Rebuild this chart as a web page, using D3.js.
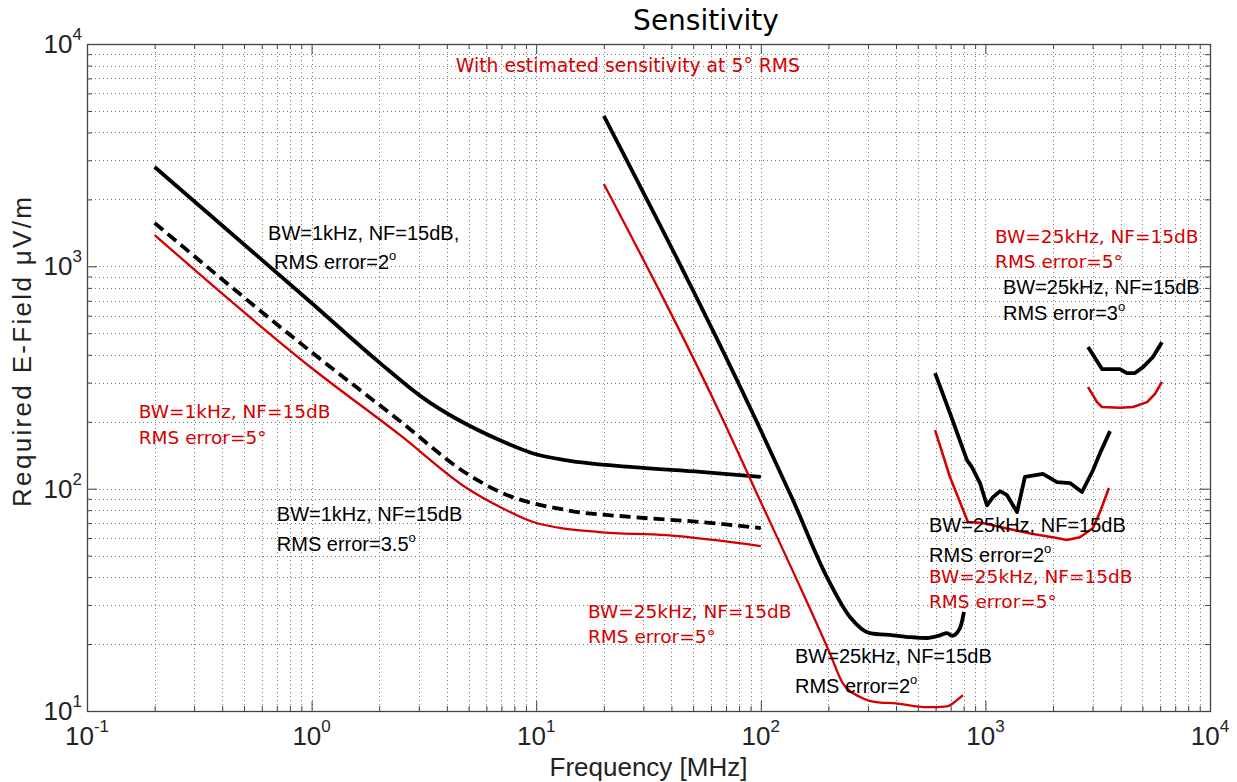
<!DOCTYPE html>
<html>
<head>
<meta charset="utf-8">
<script src="https://cdn.jsdelivr.net/npm/d3@7"></script>
<style>
  body { margin: 0; background: #fff; }
  svg { display: block; }
</style>
</head>
<body>
<svg id="chart" width="1237" height="782"></svg>
<script>
// ---- data (frequency in MHz, field in uV/m) ----
const bw1kRms2Freq = [0.2, 1, 2, 3.1, 6.9, 9.7, 13.7, 27, 54, 100];
const bw1kRms2Val  = [2800, 684, 370, 258, 165, 144, 134, 125, 119, 113];

const bw1kRms35Freq = [0.2, 1, 2.48, 4.9, 6.9, 13.7, 27, 54, 100];
const bw1kRms35Val  = [1567, 411, 201, 117, 96.6, 80, 74.5, 70.8, 66.5];

const bw1kRms5Freq = [0.2, 1, 2.48, 4.9, 6.9, 9.7, 19, 38, 100];
const bw1kRms5Val  = [1383, 349, 174, 100.7, 82.7, 70.8, 63.8, 61.8, 55.2];

const bw25kLowRms2Freq = [20, 99, 139, 197, 250, 306, 388, 462, 549, 628, 675, 710, 771, 803];
const bw25kLowRms2Val  = [4750, 187, 88.9, 40, 26.4, 22.4, 21.9, 21.5, 21.3, 21.9, 22.4, 21.8, 23.6, 27.9];

const bw25kLowRms5Freq = [20, 69, 99, 147, 203, 232, 277, 340, 388, 549, 675, 747, 794];
const bw25kLowRms5Val  = [2345, 197, 89, 37.6, 18.2, 13.3, 11.55, 10.9, 10.85, 10.4, 10.5, 11.2, 11.8];

const bw25kMidRms2Freq = [597, 695, 828, 871, 946, 1016, 1081, 1162, 1248, 1383, 1500, 1804, 2083, 2381, 2692, 3013, 3238, 3589];
const bw25kMidRms2Val  = [331, 219, 134.5, 125, 106, 84.2, 91.6, 97.5, 93.5, 78.5, 113, 116.5, 107, 106, 96.6, 121, 144.5, 181.5];

const bw25kMidRms5Freq = [597, 695, 836, 975, 1162, 1629, 2083, 2307, 2636, 3013, 3238, 3548];
const bw25kMidRms5Val  = [183.5, 113, 70.8, 70, 67.2, 62.5, 60, 58.8, 60.5, 66.5, 78.5, 100.7];

const bw25kHighRms3Freq = [2864, 3304, 3972, 4266, 4634, 5032, 5572, 6109];
const bw25kHighRms3Val  = [434, 345, 345, 331, 331, 352, 391, 456];

const bw25kHighRms5Freq = [2864, 3141, 3304, 3972, 4539, 5248, 5689, 6109];
const bw25kHighRms5Val  = [286, 245, 233, 231, 233, 245, 267, 302];

// tick label exponents
const xTickExps = [-1, 0, 1, 2, 3, 4];
const yTickExps = [1, 2, 3, 4];

const RED = "#d40000";
const BLACK = "#000";

// series table built from the arrays above
const series = [
  { f: bw1kRms2Freq, v: bw1kRms2Val, color: BLACK, width: 3.8, smooth: true },
  { f: bw1kRms35Freq, v: bw1kRms35Val, color: BLACK, width: 3.8, dash: "11,6", smooth: true },
  { f: bw1kRms5Freq, v: bw1kRms5Val, color: RED, width: 2.3, smooth: true },
  { f: bw25kLowRms2Freq, v: bw25kLowRms2Val, color: BLACK, width: 3.8, smooth: true },
  { f: bw25kLowRms5Freq, v: bw25kLowRms5Val, color: RED, width: 2.3, smooth: true },
  { f: bw25kMidRms2Freq, v: bw25kMidRms2Val, color: BLACK, width: 3.8 },
  { f: bw25kMidRms5Freq, v: bw25kMidRms5Val, color: RED, width: 2.6 },
  { f: bw25kHighRms3Freq, v: bw25kHighRms3Val, color: BLACK, width: 3.8 },
  { f: bw25kHighRms5Freq, v: bw25kHighRms5Val, color: RED, width: 2.6 }
];

// annotations, anchored in data coordinates
const notes = [
  { t: "BW=1kHz, NF=15dB,", f: 0.64, v: 1310, c: BLACK },
  { t: "RMS error=2", sup: "o", f: 0.68, v: 973, c: BLACK },
  { t: "BW=1kHz, NF=15dB", f: 0.17, v: 208, c: RED },
  { t: "RMS error=5°", f: 0.17, v: 159, c: RED },
  { t: "BW=1kHz, NF=15dB", f: 0.70, v: 71.5, c: BLACK },
  { t: "RMS error=3.5", sup: "o", f: 0.70, v: 52.4, c: BLACK },
  { t: "BW=25kHz, NF=15dB", f: 17.0, v: 26.2, c: RED },
  { t: "RMS error=5°", f: 17.0, v: 20.2, c: RED },
  { t: "BW=25kHz, NF=15dB", f: 142, v: 16.4, c: BLACK },
  { t: "RMS error=2", sup: "o", f: 142, v: 12.0, c: BLACK },
  { t: "BW=25kHz, NF=15dB", f: 561, v: 63.8, c: BLACK },
  { t: "RMS error=2", sup: "o", f: 561, v: 46.8, c: BLACK },
  { t: "BW=25kHz, NF=15dB", f: 561, v: 37.6, c: RED },
  { t: "RMS error=5°", f: 561, v: 29.0, c: RED },
  { t: "BW=25kHz, NF=15dB", f: 1104, v: 1270, c: RED },
  { t: "RMS error=5°", f: 1104, v: 985, c: RED },
  { t: "BW=25kHz, NF=15dB", f: 1197, v: 752, c: BLACK },
  { t: "RMS error=3", sup: "o", f: 1197, v: 573, c: BLACK }
];

// ---- layout ----
const plotL = 87, plotR = 1210, plotT = 44, plotB = 711;
const svg = d3.select("#chart");

const x = d3.scaleLog().domain([0.1, 1e4]).range([plotL, plotR]);
const y = d3.scaleLog().domain([10, 1e4]).range([plotB, plotT]);

const isMajor = d => Math.abs(Math.log10(d) - Math.round(Math.log10(d))) < 1e-9;
const xAll = x.ticks();
const yAll = y.ticks();

// grid (dotted, major and minor)
const grid = svg.append("g").attr("stroke", "#7a7a7a").attr("stroke-width", 1)
  .attr("stroke-dasharray", "1,3");
grid.selectAll(".gx").data(xAll.filter(d => x(d) > plotL + 1 && x(d) < plotR - 1)).join("line")
  .attr("x1", d => Math.round(x(d)) + 0.5).attr("x2", d => Math.round(x(d)) + 0.5)
  .attr("y1", plotT).attr("y2", plotB);
grid.selectAll(".gy").data(yAll.filter(d => y(d) > plotT + 1 && y(d) < plotB - 1)).join("line")
  .attr("y1", d => Math.round(y(d)) + 0.5).attr("y2", d => Math.round(y(d)) + 0.5)
  .attr("x1", plotL).attr("x2", plotR);

// tick marks on all four sides, pointing inward
function ticks(axisFn, scale, values, size, transform) {
  const g = svg.append("g").attr("transform", transform)
    .call(axisFn(scale).tickValues(values).tickSize(-size).tickFormat(""));
  g.select(".domain").remove();
  g.selectAll("line").attr("stroke", "#444");
}
const xMinor = xAll.filter(d => !isMajor(d)), xMajor = xAll.filter(isMajor);
const yMinor = yAll.filter(d => !isMajor(d)), yMajor = yAll.filter(isMajor);
[[xMinor, 5], [xMajor, 10]].forEach(([vals, s]) => {
  ticks(d3.axisBottom, x, vals, s, `translate(0,${plotB})`);
  ticks(d3.axisTop, x, vals, s, `translate(0,${plotT})`);
});
[[yMinor, 5], [yMajor, 10]].forEach(([vals, s]) => {
  ticks(d3.axisLeft, y, vals, s, `translate(${plotL},0)`);
  ticks(d3.axisRight, y, vals, s, `translate(${plotR},0)`);
});

// box
svg.append("rect").attr("x", plotL + 0.5).attr("y", plotT + 0.5)
  .attr("width", plotR - plotL).attr("height", plotB - plotT)
  .attr("fill", "none").attr("stroke", "#444").attr("stroke-width", 1.3);

// curves
svg.append("clipPath").attr("id", "plotclip").append("rect")
  .attr("x", plotL).attr("y", plotT).attr("width", plotR - plotL).attr("height", plotB - plotT);
const curves = svg.append("g").attr("clip-path", "url(#plotclip)");
series.forEach(s => {
  const pts = s.f.map((f, i) => [f, s.v[i]]);
  const line = d3.line()
    .x(d => x(d[0]))
    .y(d => y(d[1]))
    .curve(s.smooth ? d3.curveMonotoneX : d3.curveLinear);
  curves.append("path")
    .datum(pts)
    .attr("fill", "none")
    .attr("stroke", s.color)
    .attr("stroke-width", s.width)
    .attr("stroke-linejoin", "round")
    .attr("stroke-dasharray", s.dash || null)
    .attr("d", line);
});

// annotations
notes.forEach(n => {
  const red = n.c === RED;
  const t = svg.append("text")
    .attr("x", x(n.f)).attr("y", y(n.v))
    .attr("fill", n.c)
    .attr("font-family", red ? "'DejaVu Sans', Verdana, sans-serif" : "'Liberation Sans', Arial, sans-serif")
    .attr("font-size", red ? 18.5 : 20)
    .text(n.t);
  if (n.sup) {
    t.append("tspan").attr("font-size", 13).attr("dy", -9).text(n.sup);
  }
});

// subtitle inside the plot
svg.append("text")
  .attr("x", x(25.6)).attr("y", y(7482))
  .attr("text-anchor", "middle")
  .attr("fill", RED)
  .attr("font-family", "'DejaVu Sans', Verdana, sans-serif")
  .attr("font-size", 18.8)
  .text("With estimated sensitivity at 5° RMS");

// tick labels as 10^n
const tickFont = "'Liberation Sans', Arial, sans-serif";
xTickExps.forEach(e => {
  const t = svg.append("text")
    .attr("x", x(Math.pow(10, e))).attr("y", plotB + 34)
    .attr("text-anchor", "middle")
    .attr("font-family", tickFont).attr("font-size", 26).attr("fill", "#222")
    .text("10");
  t.append("tspan").attr("font-size", 17).attr("dy", -13).text(e);
});
yTickExps.forEach(e => {
  const t = svg.append("text")
    .attr("x", plotL - 5).attr("y", y(Math.pow(10, e)) + 9)
    .attr("text-anchor", "end")
    .attr("font-family", tickFont).attr("font-size", 26).attr("fill", "#222")
    .text("10");
  t.append("tspan").attr("font-size", 17).attr("dy", -13).text(e);
});

// titles
svg.append("text")
  .attr("x", 706).attr("y", 30)
  .attr("text-anchor", "middle")
  .attr("font-family", "'DejaVu Sans', Verdana, sans-serif")
  .attr("font-size", 28).attr("fill", "#000")
  .text("Sensitivity");

svg.append("text")
  .attr("x", (plotL + plotR) / 2).attr("y", 776)
  .attr("text-anchor", "middle")
  .attr("font-family", tickFont).attr("font-size", 26).attr("fill", "#222")
  .text("Frequency [MHz]");

svg.append("text")
  .attr("transform", `translate(31,352) rotate(-90)`)
  .attr("text-anchor", "middle")
  .attr("font-family", tickFont).attr("font-size", 26).attr("fill", "#222")
  .attr("textLength", 310).attr("lengthAdjust", "spacing")
  .text("Required E-Field μV/m");
</script>
</body>
</html>
